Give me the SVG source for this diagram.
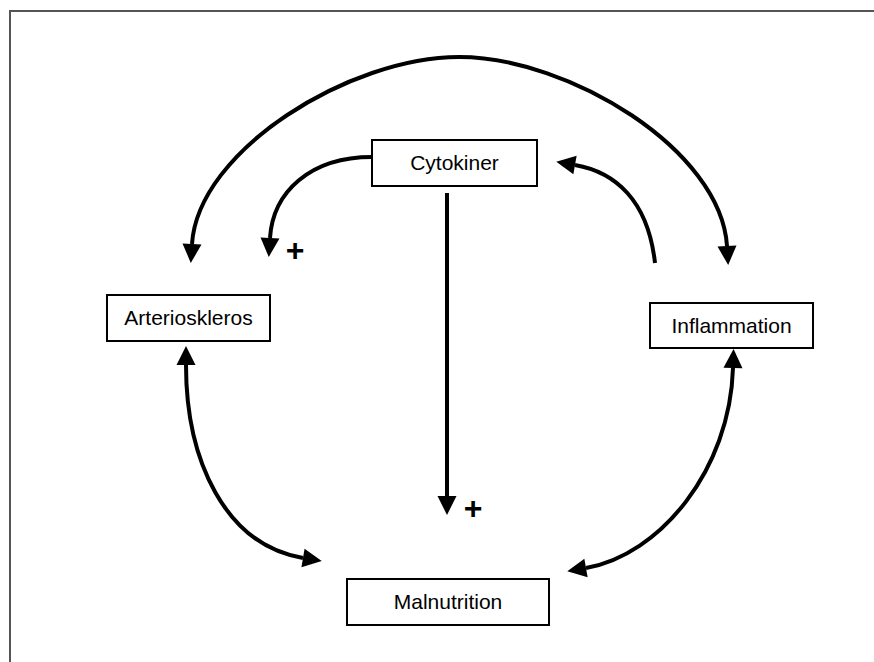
<svg xmlns="http://www.w3.org/2000/svg" width="874" height="662" viewBox="0 0 874 662">
<style>
.frame{fill:none;stroke:#555;stroke-width:2}
.box{fill:#fff;stroke:#000;stroke-width:2}
.lbl{font-family:"Liberation Sans",Arial,sans-serif;font-size:21px;fill:#000;text-anchor:middle}
.plus{font-family:"Liberation Sans",Arial,sans-serif;font-size:32px;font-weight:bold;fill:#000;text-anchor:middle}
.c{fill:none;stroke:#000;stroke-width:4}
.a{marker-end:url(#ah)}
.b{marker-start:url(#ah);marker-end:url(#ah)}
</style>
<defs>
<marker id="ah" markerUnits="userSpaceOnUse" markerWidth="20" markerHeight="20" refX="0" refY="10" orient="auto-start-reverse" overflow="visible">
<path d="M0,0.5 L19,10 L0,19.5 Z" fill="#000"/>
</marker>
</defs>
<rect width="874" height="662" fill="#fff"/>
<rect class="frame" x="10" y="11" width="900" height="700"/>
<g id="connectors">
<path class="c b" d="M192,244 C198,150 350,57 459,57 C569,57 721,150 727,246"/>
<path class="c a" d="M372,157 C310,157 273,192 270,238"/>
<path class="c a" d="M655,263 C648,200 615,172 575,165"/>
<path class="c a" d="M447,193 L447,496"/>
<path class="c b" d="M186,365 C186,460 225,545 303,558"/>
<path class="c b" d="M733,368 C730,470 660,555 586,568"/>
</g>
<g id="n-cytokiner">
<rect class="box" x="372" y="140" width="165" height="46"/>
<text class="lbl" x="454.5" y="170">Cytokiner</text>
</g>
<g id="n-arterioskleros">
<rect class="box" x="107" y="295" width="163" height="46"/>
<text class="lbl" x="188.5" y="325">Arterioskleros</text>
</g>
<g id="n-inflammation">
<rect class="box" x="650" y="303" width="163" height="45"/>
<text class="lbl" x="731.5" y="333">Inflammation</text>
</g>
<g id="n-malnutrition">
<rect class="box" x="347" y="579" width="202" height="46"/>
<text class="lbl" x="448" y="609">Malnutrition</text>
</g>
<g id="signs">
<text class="plus" x="295" y="261">+</text>
<text class="plus" x="473" y="519">+</text>
</g>
</svg>
